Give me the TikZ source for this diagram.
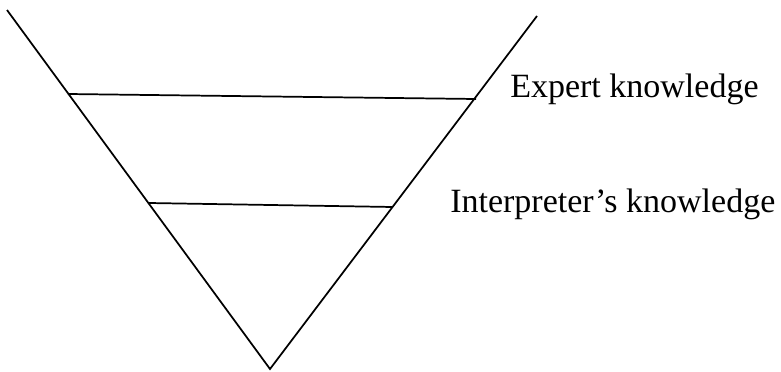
\documentclass[tikz,border=0pt]{standalone}
\usepackage{fontspec}
\setmainfont{Liberation Serif}
\usepackage{tikz}

\begin{document}
\begin{tikzpicture}[x=0.75pt, y=-0.75pt, every node/.style={font=\fontsize{25.5}{30}\selectfont}, edge/.style={line width=1.3pt}, lbl/.style={anchor=base west, inner sep=0pt}]
	\useasboundingbox (0,0) rectangle (781,371);
	\coordinate (TL) at (7,10);
	\coordinate (TR) at (537,16);
	\coordinate (B) at (270,369);
	\coordinate (U1) at (68,94);
	\coordinate (U2) at (476,99);
	\coordinate (L1) at (149,203);
	\coordinate (L2) at (393,207);
	\draw[edge] (TL) -- (B) -- (TR);
	\draw[edge] (U1) -- (U2);
	\draw[edge] (L1) -- (L2);
	\node[lbl] (expert) at (510,97) {Expert knowledge};
	\node[lbl] (interp) at (450,212) {Interpreter’s knowledge};
\end{tikzpicture}
\end{document}
